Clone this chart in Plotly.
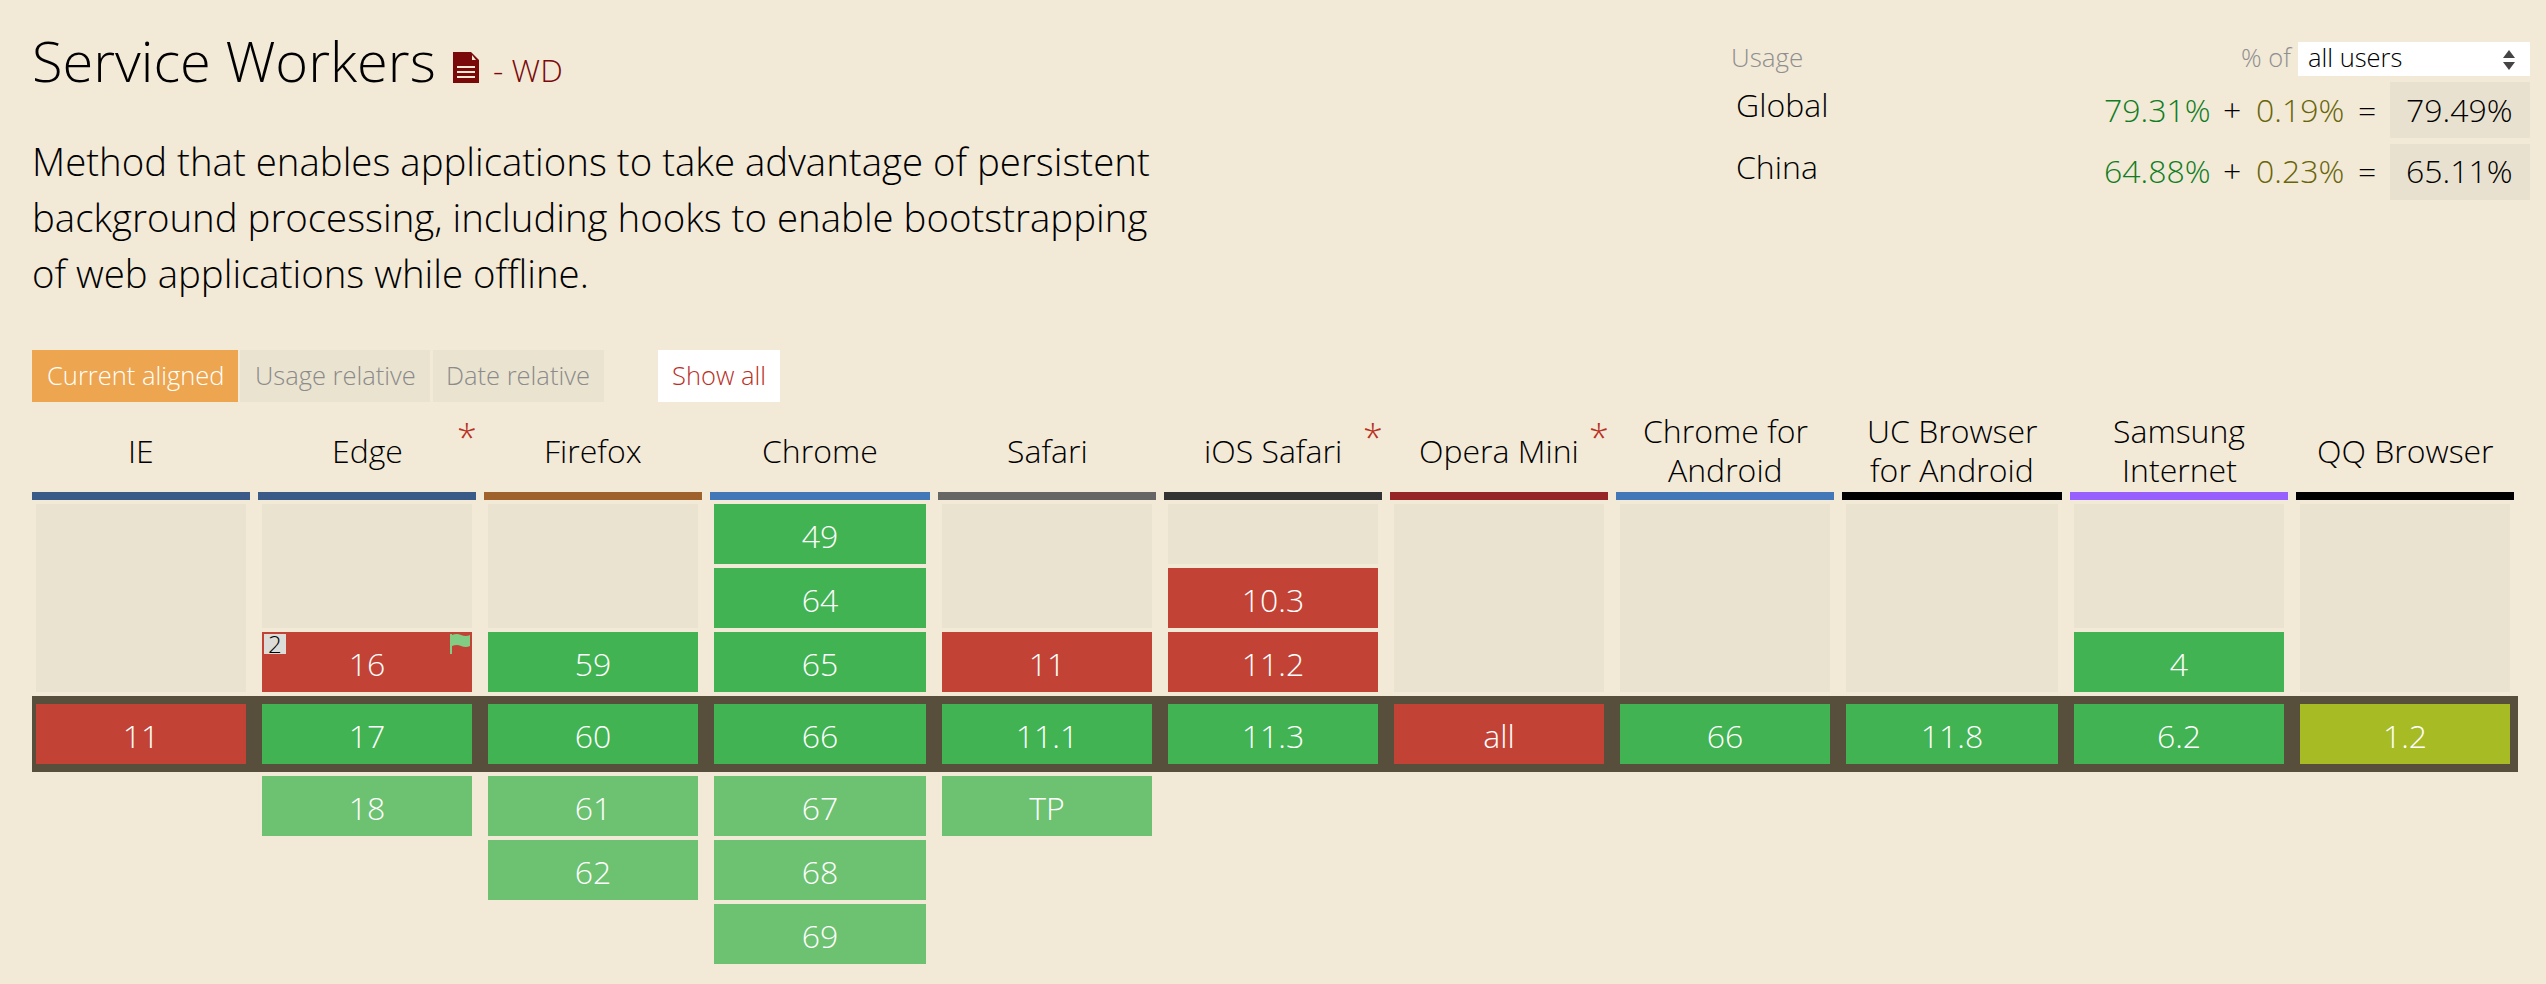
import plotly.graph_objects as go

# Browser columns
browsers = ["IE", "Edge", "Firefox", "Chrome", "Safari", "iOS Safari", "Opera Mini",
            "Chrome for Android", "UC Browser for Android", "Samsung Internet", "QQ Browser"]
header_lines = [["IE"], ["Edge"], ["Firefox"], ["Chrome"], ["Safari"], ["iOS Safari"], ["Opera Mini"],
                ["Chrome for", "Android"], ["UC Browser", "for Android"], ["Samsung", "Internet"], ["QQ Browser"]]
has_note = [False, True, False, False, False, True, True, False, False, False, False]

# Versions per browser, oldest first. y = supported, n = not supported, a = partial
past_versions = [[], ["16"], ["59"], ["49", "64", "65"], ["11"], ["10.3", "11.2"], [], [], [], ["4"], []]
past_status = [[], ["n"], ["y"], ["y", "y", "y"], ["n"], ["n", "n"], [], [], [], ["y"], []]
current_versions = ["11", "17", "60", "66", "11.1", "11.3", "all", "66", "11.8", "6.2", "1.2"]
current_status = ["n", "y", "y", "y", "y", "y", "n", "y", "y", "y", "a"]
future_versions = [[], ["18"], ["61", "62"], ["67", "68", "69"], ["TP"], [], [], [], [], [], []]

# Usage table
usage_regions = ["Global", "China"]
usage_full = [79.31, 64.88]
usage_partial = [0.19, 0.23]
usage_total = [79.49, 65.11]

# Colours
BG = "#f2e9d7"
EMPTY = "#eae3d0"
BAND = "#574e3c"
GREEN = "#41b352"
RED = "#c24335"
OLIVE = "#a7bb24"
LIGHT_GREEN = "#6dc272"
DARK_RED = "#7a0a0a"
STATUS_COLOR = {"y": GREEN, "n": RED, "a": OLIVE}
header_colors = ["#3a5a87", "#3a5a87", "#a0622c", "#4278b8", "#666666", "#333333", "#962527",
                 "#4278b8", "#000000", "#985fff", "#000000"]

# Page geometry in pixels
cell_left = [36, 262, 488, 714, 942, 1168, 1394, 1620, 1846, 2074, 2300]
cell_right = [246, 472, 698, 926, 1152, 1378, 1604, 1830, 2058, 2284, 2510]
ROW_H = 60
PAST_BOTTOM = 692
CURRENT_TOP = 704
FUTURE_TOP = 776
GRID_TOP = 504
FONT = "Open Sans"


def mid(baseline, size):
    # centre of a text line box, from where its baseline should sit
    return baseline - 0.388 * size


fig = go.Figure()
annotations = []
shapes = []


def label(x, baseline, text, size, color="#000000", anchor="left", weight=300):
    annotations.append(dict(x=x, y=mid(baseline, size), text=text, xref="x", yref="y", showarrow=False,
                            xanchor=anchor, yanchor="middle", borderpad=0, borderwidth=0,
                            font=dict(family=FONT, size=size, color=color, weight=weight)))


def box(x0, y0, x1, y1, color, layer="below"):
    shapes.append(dict(type="rect", x0=x0, y0=y0, x1=x1, y1=y1, xref="x", yref="y",
                       fillcolor=color, line_width=0, layer=layer))


def icon(path, color):
    shapes.append(dict(type="path", path=path, xref="x", yref="y", fillcolor=color, line_width=0, layer="above"))


# Collect every cell of the table
cx, cw, ctop, ch, ccol = [], [], [], [], []
tx, ty, tt = [], [], []


def add_cell(col, top, height, color, text=None):
    left, right = cell_left[col], cell_right[col]
    cx.append((left + right) / 2)
    cw.append(right - left)
    ctop.append(top)
    ch.append(height)
    ccol.append(color)
    if text is not None:
        tx.append((left + right) / 2)
        ty.append(mid(top + 48, 32))
        tt.append(text)


for i in range(len(browsers)):
    n = len(past_versions[i])
    for j, v in enumerate(past_versions[i]):
        add_cell(i, PAST_BOTTOM - ROW_H - (n - 1 - j) * (ROW_H + 4), ROW_H, STATUS_COLOR[past_status[i][j]], v)
    empty_bottom = PAST_BOTTOM - n * (ROW_H + 4) if n else PAST_BOTTOM
    if empty_bottom > GRID_TOP:
        add_cell(i, GRID_TOP, empty_bottom - GRID_TOP, EMPTY)
    add_cell(i, CURRENT_TOP, ROW_H, STATUS_COLOR[current_status[i]], current_versions[i])
    for j, v in enumerate(future_versions[i]):
        add_cell(i, FUTURE_TOP + j * (ROW_H + 4), ROW_H, LIGHT_GREEN, v)

# Current row band and the coloured header rules
box(32, 696, 2518, 772, BAND)
fig.add_trace(go.Bar(
    x=[(l + r) / 2 for l, r in zip(cell_left, cell_right)],
    width=[r - l + 8 for l, r in zip(cell_left, cell_right)],
    base=[492] * len(browsers),
    y=[8] * len(browsers),
    marker=dict(color=header_colors, line_width=0),
    hoverinfo="skip",
))
fig.add_trace(go.Bar(
    x=cx, width=cw, base=ctop, y=ch,
    marker=dict(color=ccol, line_width=0),
    hoverinfo="skip",
))
fig.add_trace(go.Scatter(
    x=tx, y=ty, text=tt, mode="text", textposition="middle center",
    textfont=dict(family=FONT, size=32, color="#ffffff", weight=300),
    hoverinfo="skip",
))

# Column headers
for i, lines in enumerate(header_lines):
    center = (cell_left[i] + cell_right[i]) / 2
    baselines = [463] if len(lines) == 1 else [443, 482]
    for line, b in zip(lines, baselines):
        label(center, b, line, 32, anchor="center")
    if has_note[i]:
        label(cell_right[i] - 5, 451, "*", 36, color="#b9301f", anchor="center")

# Title and description
label(32, 82, "Service Workers", 56)
label(493, 82, "- WD", 32, color=DARK_RED)
icon("M453 52 L471 52 L479 60 L479 83 L453 83 Z", DARK_RED)
icon("M472 55 L476 60 L472 60 Z", BG)
for y in (66, 71, 76):
    box(457, y, 475, y + 2, BG, layer="above")
label(32, 176, "Method that enables applications to take advantage of persistent", 38.4)
label(32, 232, "background processing, including hooks to enable bootstrapping", 38.4)
label(32, 288, "of web applications while offline.", 38.4)

# Buttons
box(32, 350, 238, 402, "#eda64f")
box(240, 350, 430, 402, EMPTY)
box(433, 350, 604, 402, EMPTY)
box(658, 350, 780, 402, "#ffffff")
label(135, 385, "Current aligned", 25.5, color="#ffffff", anchor="center")
label(335, 385, "Usage relative", 25.5, color="#8b8b8b", anchor="center")
label(518, 385, "Date relative", 25.5, color="#8b8b8b", anchor="center")
label(719, 385, "Show all", 25.5, color="#b9301f", anchor="center")

# Usage table
label(1731, 67, "Usage", 26, color="#8f8f8f")
label(2293, 67, "% of", 25.5, color="#8f8f8f", anchor="right")
box(2298, 42, 2530, 76, "#ffffff")
label(2308, 67, "all users", 25.5)
icon("M2503 58 L2515 58 L2509 50 Z", "#444444")
icon("M2503 62 L2515 62 L2509 70 Z", "#444444")
for k, region in enumerate(usage_regions):
    top = 82 + k * 62
    base = 122 + k * 61
    box(2390, top, 2530, top + 56, "#e9e1cf")
    label(1736, 117 + k * 62, region, 32)
    label(2211, base, f"{usage_full[k]:.2f}%", 32, color="#0f7d22", anchor="right")
    label(2232, base, "+", 32, anchor="center")
    label(2344, base, f"{usage_partial[k]:.2f}%", 32, color="#686508", anchor="right")
    label(2367, base, "=", 32, anchor="center")
    label(2513, base, f"{usage_total[k]:.2f}%", 32, anchor="right")

# Note badge and flag on Edge 16
box(264, 634, 286, 654, "#dcdcd8", layer="above")
label(275, 652.5, "2", 24, anchor="center")
icon("M450 634 L452 634 L452 654 L450 654 Z", "#82cd84")
icon("M452 635 Q457 633 461 635 Q466 637 470 635 L470 646 Q466 648 461 646 Q457 644 452 646 Z", "#82cd84")

fig.update_layout(
    width=2546, height=984,
    margin=dict(l=0, r=0, t=0, b=0),
    paper_bgcolor=BG, plot_bgcolor=BG,
    barmode="overlay", showlegend=False,
    xaxis=dict(range=[0, 2546], visible=False, fixedrange=True),
    yaxis=dict(range=[984, 0], visible=False, fixedrange=True),
    annotations=annotations, shapes=shapes,
)

fig.write_html("out.html", config=dict(displayModeBar=False),
               post_script="document.body.style.margin='0';")
